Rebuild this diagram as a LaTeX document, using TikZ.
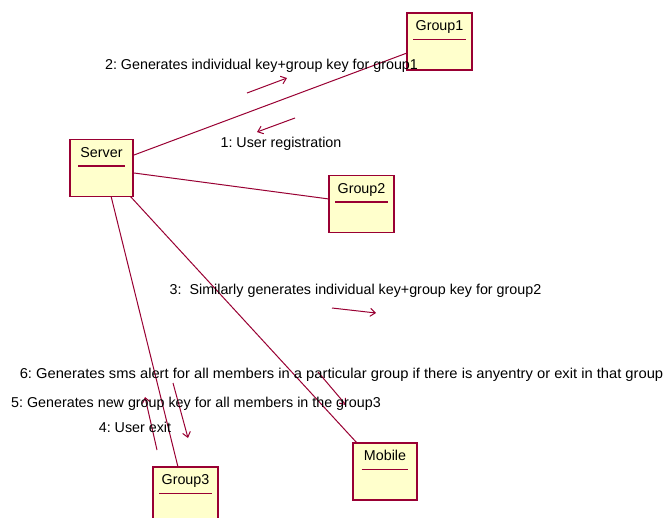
\documentclass[tikz,border=0pt]{standalone}
\usepackage{fontspec}
\usepackage{graphicx}
\setmainfont{Liberation Sans}
\usetikzlibrary{calc,arrows.meta}
\definecolor{rose}{RGB}{153,0,51}
\definecolor{objfill}{RGB}{255,255,204}
\frenchspacing
\tikzset{
  objbox/.style={draw=rose, fill=objfill, line width=1.4pt, minimum height=57pt, inner sep=0pt},
  objname/.style={inner sep=0pt, anchor=mid, font=\fontsize{14.3}{16}\selectfont},
  uline/.style={draw=rose, line width=1.4pt},
  link/.style={draw=rose, line width=1pt},
  msgarrow/.style={draw=rose, line width=1pt, -{Straight Barb[length=5pt,width=8pt]}},
  msg/.style={inner sep=0pt, anchor=mid, font=\fontsize{14.3}{16}\selectfont}
}
\newcommand\objnode[5]{%
  \node[objbox, minimum width=#4pt] (#1) at (#2,#3) {};
  \node[objname] (#1name) at ($(#1.north)+(0,16)$) {#5};
  \coordinate (#1ul) at ($(#1.north)+(0,27)$);
  \draw[uline] ($(#1name.west |- #1ul)+(-2,0)$) -- ($(#1name.east |- #1ul)+(2,0)$);
}
\begin{document}
\begin{tikzpicture}[x=1pt,y=-1pt]
\clip (0,0) rectangle (669,517);
\fill[white] (0,0) rectangle (669,517);

% links (drawn first)
\coordinate (s1) at (134,155);
\coordinate (s2) at (134,173);
\coordinate (s3) at (111,196);
\coordinate (s4) at (130,196);
\coordinate (g1) at (407,53);
\coordinate (g2) at (329,199);
\coordinate (g3) at (178,467);
\coordinate (mb) at (357,443);
\draw[link] (s1) -- (g1);
\draw[link] (s2) -- (g2);
\draw[link] (s3) -- (g3);
\draw[link] (s4) -- (mb);

% objects
\objnode{server}{101.5}{168}{63}{Server}
\objnode{groupone}{439.5}{41.5}{65}{Group1}
\objnode{grouptwo}{361.5}{204}{65}{Group2}
\objnode{groupthree}{185.5}{495.5}{65}{Group3}
\objnode{mobile}{385}{471.5}{64}{Mobile}

% message arrows
\coordinate (a2s) at (247,93);  \coordinate (a2e) at (287,78);
\coordinate (a1s) at (295,118); \coordinate (a1e) at (257,132);
\coordinate (a3s) at (332,308); \coordinate (a3e) at (376,313);
\coordinate (a4s) at (157,450); \coordinate (a4e) at (145,397);
\coordinate (a5s) at (173,383); \coordinate (a5e) at (188,438);
\coordinate (a6s) at (318,372); \coordinate (a6e) at (346,405);
\draw[msgarrow] (a2s) -- (a2e);
\draw[msgarrow] (a1s) -- (a1e);
\draw[msgarrow] (a3s) -- (a3e);
\draw[msgarrow] (a4s) -- (a4e);
\draw[msgarrow] (a5s) -- (a5e);
\draw[msgarrow] (a6s) -- (a6e);

% message labels
\node[msg] (m2) at (261.5,67) {2: Generates individual key+group key for group1};
\node[msg] (m1) at (281,145) {1: User registration};
\node[msg] (m3) at (355.5,292) {3:\ \ Similarly generates individual key+group key for group2};
\node[msg] (m6) at (341.5,376) {\scalebox{1.03}[1]{6: Generates sms alert for all members in a particular group if there is anyentry or exit in that group}};
\node[msg] (m5) at (196,405) {5: Generates new group key for all members in the group3};
\node[msg] (m4) at (135,430) {4: User exit};
\end{tikzpicture}
\end{document}
